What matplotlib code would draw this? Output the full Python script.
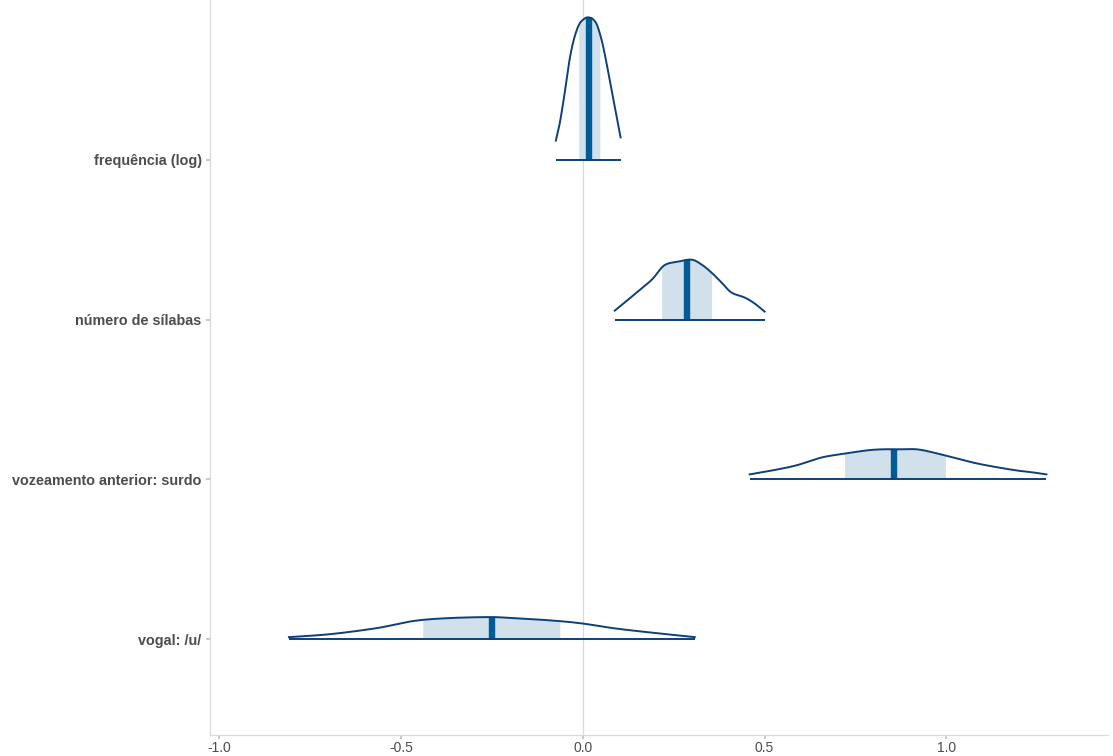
import numpy as np
import matplotlib
matplotlib.use("Agg")
import matplotlib.pyplot as plt

params = ["frequência (log)", "número de sílabas", "vozeamento anterior: surdo", "vogal: /u/"]
medians = [0.017, 0.286, 0.857, -0.250]
inner_lo = [-0.011, 0.217, 0.720, -0.440]
inner_hi = [0.047, 0.354, 0.997, -0.063]

freq_x = [-0.074, -0.064, -0.055, -0.045, -0.036, -0.026, -0.016, -0.008, 0.000, 0.010, 0.019, 0.028, 0.038, 0.047, 0.055, 0.065, 0.074, 0.084, 0.093, 0.104]
freq_h = [0.12, 0.22, 0.34, 0.49, 0.63, 0.74, 0.815, 0.855, 0.875, 0.89, 0.89, 0.88, 0.85, 0.79, 0.72, 0.61, 0.50, 0.38, 0.27, 0.14]

sil_x = [0.088, 0.115, 0.151, 0.190, 0.217, 0.234, 0.261, 0.299, 0.327, 0.354, 0.382, 0.409, 0.445, 0.473, 0.500]
sil_h = [0.056, 0.106, 0.175, 0.250, 0.325, 0.350, 0.362, 0.375, 0.344, 0.294, 0.231, 0.169, 0.138, 0.100, 0.050]

voz_x = [0.459, 0.522, 0.588, 0.659, 0.725, 0.780, 0.824, 0.871, 0.918, 0.962, 1.016, 1.071, 1.126, 1.192, 1.236, 1.275]
voz_h = [0.031, 0.056, 0.088, 0.138, 0.162, 0.181, 0.188, 0.188, 0.188, 0.169, 0.138, 0.106, 0.081, 0.056, 0.044, 0.031]

vog_x = [-0.808, -0.695, -0.566, -0.467, -0.374, -0.255, -0.192, -0.099, -0.008, 0.082, 0.176, 0.308]
vog_h = [0.0125, 0.031, 0.069, 0.113, 0.131, 0.138, 0.131, 0.119, 0.100, 0.069, 0.044, 0.0125]

dens_x = [freq_x, sil_x, voz_x, vog_x]
dens_h = [freq_h, sil_h, voz_h, vog_h]

xticks = [-1.0, -0.5, 0.0, 0.5, 1.0]
xtick_labels = ["-1.0", "-0.5", "0.0", "0.5", "1.0"]

DARK = "#0d3f78"
MEDC = "#005b96"
LIGHT = "#d1e1ec"
GRID = "#d9d9d9"
TXT = "#4d4d4d"


def smooth(xs, ys, k=12):
    """Catmull-Rom rendering of a polyline through the read points."""
    P = np.column_stack([xs, ys]).astype(float)
    P = np.vstack([2 * P[0] - P[1], P, 2 * P[-1] - P[-2]])
    out = []
    t = np.linspace(0, 1, k, endpoint=False)[:, None]
    for i in range(1, len(P) - 2):
        p0, p1, p2, p3 = P[i - 1], P[i], P[i + 1], P[i + 2]
        seg = 0.5 * ((2 * p1) + (-p0 + p2) * t + (2 * p0 - 5 * p1 + 4 * p2 - p3) * t ** 2
                     + (-p0 + 3 * p1 - 3 * p2 + p3) * t ** 3)
        out.append(seg)
    out.append(P[-2][None, :])
    S = np.vstack(out)
    return S[:, 0], S[:, 1]


W, H = 1113, 756
fig = plt.figure(figsize=(W / 100, H / 100), dpi=100)
ax = fig.add_axes([210 / W, 1 - 735 / H, (1108 - 210) / W, 735 / H])

ax.axvline(0, color=GRID, lw=0.9, zorder=0)

n = len(params)
for i, (name, xs, hs) in enumerate(zip(params, dens_x, dens_h)):
    y0 = n - i
    sx, sh = smooth(xs, hs)
    fine = np.linspace(inner_lo[i], inner_hi[i], 300)
    ax.fill_between(fine, y0, y0 + np.interp(fine, sx, sh), color=LIGHT, lw=0, zorder=1)
    mh = np.interp(medians[i], sx, sh)
    ax.plot([medians[i], medians[i]], [y0, y0 + mh], color=MEDC, lw=4.6,
            solid_capstyle="butt", zorder=2)
    ax.plot(sx, y0 + sh, color=DARK, lw=1.4, zorder=3, solid_joinstyle="round")
    ax.plot([xs[0], xs[-1]], [y0, y0], color=DARK, lw=1.4, zorder=3, solid_capstyle="butt")

ax.set_xlim(-1.025, (1108 - 583) / 363.5)
ax.set_ylim(1 - 96 / 160, 5.0)

ax.set_yticks([n - i for i in range(n)])
ax.set_yticklabels(params, fontsize=10.4, fontweight="bold", color=TXT,
                   family=["Liberation Sans", "DejaVu Sans"])
ax.set_xticks(xticks)
ax.set_xticklabels(xtick_labels, fontsize=10, color=TXT,
                   family=["Liberation Sans", "DejaVu Sans"])

for s in ["top", "right"]:
    ax.spines[s].set_visible(False)
for s in ["left", "bottom"]:
    ax.spines[s].set_color(GRID)
    ax.spines[s].set_linewidth(0.9)
ax.tick_params(axis="both", colors="#c4c4c4", length=3, width=1.3, labelcolor=TXT)
ax.tick_params(axis="y", pad=3)
ax.tick_params(axis="x", pad=1.2)

fig.savefig("out.png", dpi=100)
